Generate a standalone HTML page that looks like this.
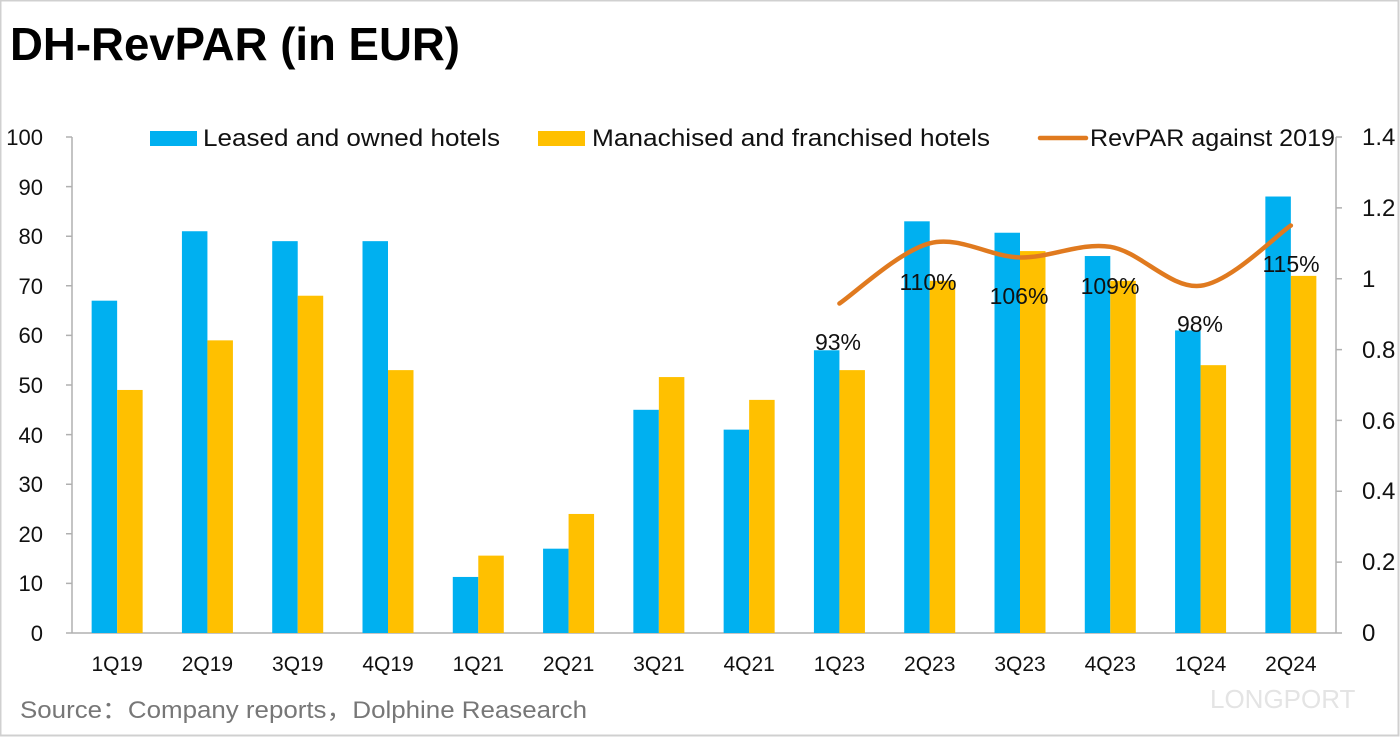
<!DOCTYPE html>
<html><head><meta charset="utf-8"><style>
html,body{margin:0;padding:0;background:#fff;}
svg{display:block;font-family:"Liberation Sans",sans-serif;}
</style></head><body>
<svg width="1400" height="737" viewBox="0 0 1400 737">
<rect x="0.5" y="0.5" width="1398" height="735" fill="#fff" stroke="#d0d0d0" stroke-width="2"/>
<text x="10" y="60" font-size="46" font-weight="bold" textLength="450" lengthAdjust="spacingAndGlyphs">DH-RevPAR (in EUR)</text>
<g stroke="#b0b0b0" stroke-width="1.5" fill="none">
<line x1="72" y1="137" x2="72" y2="633"/>
<line x1="72" y1="633" x2="1336" y2="633"/>
<line x1="1336" y1="137" x2="1336" y2="633"/>
<path d="M66 137H72M66 186.6H72M66 236.2H72M66 285.8H72M66 335.4H72M66 385H72M66 434.6H72M66 484.2H72M66 533.8H72M66 583.4H72M66 633H72"/>
<path d="M1336 137H1342M1336 207.9H1342M1336 278.7H1342M1336 349.6H1342M1336 420.4H1342M1336 491.3H1342M1336 562.1H1342M1336 633H1342"/>
</g>
<g font-size="22" fill="#111" text-anchor="end">
<text x="43" y="145">100</text><text x="43" y="195">90</text><text x="43" y="244">80</text><text x="43" y="294">70</text><text x="43" y="343">60</text><text x="43" y="393">50</text><text x="43" y="443">40</text><text x="43" y="492">30</text><text x="43" y="542">20</text><text x="43" y="591">10</text><text x="43" y="641">0</text>
</g>
<g font-size="24" fill="#111">
<text x="1362" y="145">1.4</text><text x="1362" y="216">1.2</text><text x="1362" y="287">1</text><text x="1362" y="358">0.8</text><text x="1362" y="429">0.6</text><text x="1362" y="499">0.4</text><text x="1362" y="570">0.2</text><text x="1362" y="641">0</text>
</g>
<g id="bars"></g>
<g font-size="21" fill="#111" text-anchor="middle" id="xl"></g>
<path id="ln" fill="none" stroke="#E07A1F" stroke-width="4.5" stroke-linecap="round"/>
<g font-size="23" fill="#111" text-anchor="middle">
<text x="838" y="350">93%</text>
<text x="928" y="290">110%</text>
<text x="1019" y="304">106%</text>
<text x="1110" y="294">109%</text>
<text x="1200" y="332">98%</text>
<text x="1291" y="272">115%</text>
</g>
<rect x="150" y="131" width="47" height="15" fill="#00B0F0"/>
<text x="203" y="146" font-size="24" fill="#111" textLength="297" lengthAdjust="spacingAndGlyphs">Leased and owned hotels</text>
<rect x="538" y="131" width="47" height="15" fill="#FFC000"/>
<text x="592" y="146" font-size="24" fill="#111" textLength="398" lengthAdjust="spacingAndGlyphs">Manachised and franchised hotels</text>
<line x1="1040" y1="138" x2="1086" y2="138" stroke="#E07A1F" stroke-width="4.5" stroke-linecap="round"/>
<text x="1090" y="146" font-size="24" fill="#111" textLength="245" lengthAdjust="spacingAndGlyphs">RevPAR against 2019</text>
<text x="20" y="718" font-size="24" fill="#777" textLength="567" lengthAdjust="spacingAndGlyphs">Source：Company reports，Dolphine Reasearch</text>
<text x="1210" y="708" font-size="26" fill="#e4e4e4">LONGPORT</text>
</svg>
<script>
var B=[67,81,79,79,11.3,17,45,41,57,83,80.7,76,61,88];
var Y=[49,59,68,53,15.6,24,51.6,47,53,71,77,71,54,72];
var L=["1Q19","2Q19","3Q19","4Q19","1Q21","2Q21","3Q21","4Q21","1Q23","2Q23","3Q23","4Q23","1Q24","2Q24"];
var s="",t="",cw=1264/14;
for(var i=0;i<14;i++){var c=72+cw*(i+0.5);
s+='<rect x="'+(c-25.5)+'" y="'+(633-B[i]*4.96)+'" width="25.5" height="'+(B[i]*4.96)+'" fill="#00B0F0"/>';
s+='<rect x="'+c+'" y="'+(633-Y[i]*4.96)+'" width="25.5" height="'+(Y[i]*4.96)+'" fill="#FFC000"/>';
t+='<text x="'+c+'" y="671">'+L[i]+'</text>';}
document.getElementById("bars").innerHTML=s;document.getElementById("xl").innerHTML=t;
var v=[0.93,1.10,1.06,1.09,0.98,1.15],p=[];
for(var i=0;i<6;i++)p.push([72+cw*(8+i+0.5),633-v[i]*354.3]);
var d="M"+p[0][0]+" "+p[0][1];
for(var i=0;i<5;i++){var p0=p[i-1]||p[i],p1=p[i],p2=p[i+1],p3=p[i+2]||p2;
d+=" C"+(p1[0]+(p2[0]-p0[0])/6)+" "+(p1[1]+(p2[1]-p0[1])/6)+" "+(p2[0]-(p3[0]-p1[0])/6)+" "+(p2[1]-(p3[1]-p1[1])/6)+" "+p2[0]+" "+p2[1];}
document.getElementById("ln").setAttribute("d",d);
</script>
</body></html>
